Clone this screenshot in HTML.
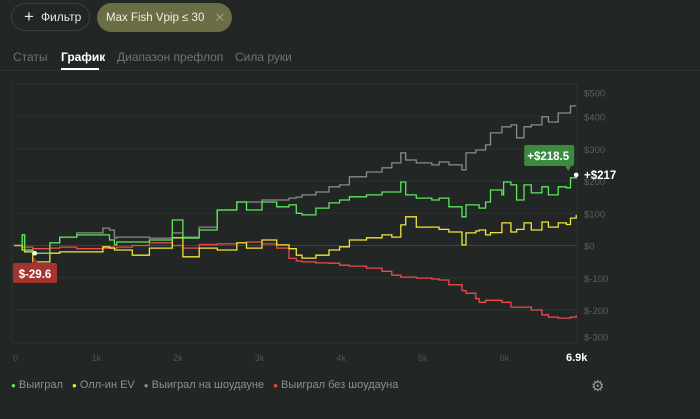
<!DOCTYPE html>
<html><head><meta charset="utf-8">
<style>
body{margin:0;width:700px;height:419px;background:#222725;font-family:"Liberation Sans",sans-serif;overflow:hidden;position:relative;color:#ccc}
.pill{position:absolute;border-radius:15px;font-size:12px;display:flex;align-items:center;white-space:nowrap;box-sizing:border-box}
.tab{position:absolute;top:50px;font-size:12px;color:#6f7472;white-space:nowrap}
</style></head><body>
<div class="pill" style="left:11px;top:3px;width:79px;height:28px;border:1px solid #3a3f3d;color:#e8e8e8"><span style="font-size:17px;margin:0 7px 0 12px;font-weight:300">+</span>Фильтр</div>
<div class="pill" style="left:97px;top:3px;width:135px;height:29px;background:#6b6d45;color:#f0f0e0;font-size:11.5px"><span style="margin-left:9px">Max Fish Vpip ≤ 30</span><span style="margin-left:10px;color:#999b7a;font-size:13px">✕</span></div>
<div class="tab" style="left:13px">Статы</div>
<div class="tab" style="left:61px;color:#fff;font-weight:bold">График</div>
<div style="position:absolute;left:61px;top:68px;width:38px;height:2px;background:#fff"></div>
<div class="tab" style="left:117px">Диапазон префлоп</div>
<div class="tab" style="left:235px">Сила руки</div>
<div style="position:absolute;left:0;top:70px;width:700px;height:1px;background:#2e3331"></div>

<svg id="chart" width="700" height="419" style="position:absolute;left:0;top:0"></svg>

<div style="position:absolute;left:11px;top:379px;font-size:11px;font-family:'Liberation Sans Narrow','Liberation Sans',sans-serif;color:#8b908e;display:flex;gap:9px;white-space:nowrap">
<span><span style="color:#5de65a;font-size:8px">●</span> Выиграл</span>
<span><span style="color:#f1e33c;font-size:8px">●</span> Олл-ин EV</span>
<span><span style="color:#8a8a8a;font-size:8px">●</span> Выиграл на шоудауне</span>
<span><span style="color:#ee4b47;font-size:8px">●</span> Выиграл без шоудауна</span>
</div>
<div style="position:absolute;left:591px;top:377px;font-size:15px;color:#9a9e9c">⚙</div>

<script>
const hands=[0,100,130,230,440,560,770,1090,1170,1230,1260,1450,1660,1940,2070,2270,2490,2730,2850,3040,3220,3370,3460,3530,3700,3860,3990,4110,4320,4510,4630,4740,4800,4930,5120,5210,5330,5490,5540,5660,5700,5780,5840,5980,6000,6090,6160,6250,6340,6470,6550,6670,6770,6820,6890];
const won=[0,33,-14,-24,8,26,33,33,17,2,11,11,17,79,23,48,110,135,110,135,120,126,100,95,116,132,141,151,157,166,166,197,157,147,141,147,120,89,126,126,116,135,172,157,197,188,141,188,163,182,157,182,179,210,219];
const showdown=[0,33,-14,-24,8,26,39,54,48,23,26,26,23,39,26,57,110,135,135,141,141,147,150,157,166,182,188,213,228,241,256,287,265,256,250,259,250,234,287,296,296,312,349,368,368,374,334,368,374,399,383,411,411,433,433];
const nonShowdown=[0,-5,-5,-10,-8,-5,-10,-8,-5,-8,-5,0,8,0,-8,3,5,8,11,5,-8,-40,-48,-51,-54,-55,-61,-64,-70,-80,-92,-98,-98,-101,-104,-107,-122,-140,-148,-165,-176,-170,-170,-176,-176,-191,-191,-191,-200,-215,-222,-225,-225,-222,-216];
const allinEV=[0,-14,-20,-51,-24,-20,-20,-4,-8,-14,-14,-30,-8,24,-35,-8,-14,8,-8,17,2,-10,-30,-39,-30,-14,-4,17,24,33,26,64,89,57,57,50,42,2,39,45,48,33,40,70,70,42,50,70,48,73,57,70,65,85,95];
const yTicks=[500,400,300,200,100,0,-100,-200,-300];
const xTicks=[0,1000,2000,3000,4000,5000,6000];
const xTickLabels=["0","1k","2k","3k","4k","5k","6k"];
const maxHands=6900;
const lastLabel="+$217", peakLabel="+$218.5", minLabel="$-29.6";

const X=h=>14+h*(577-14)/maxHands;
const Y=v=>245.5-v*0.3225;
const svg=document.getElementById('chart');
const NS='http://www.w3.org/2000/svg';
function mk(t,a){const e=document.createElementNS(NS,t);for(const k in a)e.setAttribute(k,a[k]);svg.appendChild(e);return e;}

const frame=mk('rect',{x:12,y:84,width:565,height:259,fill:'none',stroke:'#2d3230','stroke-width':1});


yTicks.forEach(v=>{
  if(v>-300&&v<500){const g=mk('line',{x1:12,x2:577,y1:Y(v),y2:Y(v),stroke:v===0?'#3e4341':'#2b302e','stroke-width':1});
  
  }
  const off=v===500?12:(v===-300?-2:4);
  const t=mk('text',{x:584,y:Y(v)+off,fill:'#5b605e','font-size':9.5});
  t.textContent=(v<0?'$-'+(-v):'$'+v);
  
  
});
xTicks.forEach((h,i)=>{
  const t=mk('text',{x:X(h)-(i===0?1:4),y:361,fill:'#4f5452','font-size':9});
  t.textContent=xTickLabels[i];
  
  
});
const endT=mk('text',{x:566,y:361,fill:'#fff','font-size':11,'font-weight':'bold'});
endT.textContent=(maxHands/1000)+'k';



function series(vals,color,name){
  let d='M'+X(hands[0])+' '+Y(vals[0]);
  for(let i=1;i<hands.length;i++){d+=' H'+X(hands[i]).toFixed(1)+' V'+Y(vals[i]).toFixed(1);}
  const p=mk('path',{d:d,fill:'none',stroke:color,'stroke-width':1.3});
  
  
}
series(showdown,'#8a8a8a','line-showdown');
series(nonShowdown,'#ee4b47','line-non-showdown');
series(allinEV,'#f1e33c','line-allin-ev');
series(won,'#5de65a','line-won');

const lx=X(hands[hands.length-1]), ly=Y(won[won.length-1]);
const tip=mk('path',{d:`M${lx-52} 145 h48 a2 2 0 0 1 2 2 v17 a2 2 0 0 1 -2 2 h-1 l-3 5 l-3 -5 h-39 a2 2 0 0 1 -2 -2 v-17 a2 2 0 0 1 2 -2z`,fill:'#3b8a3e'});


const tt=mk('text',{x:lx-28,y:160,fill:'#fff','font-size':11.5,'font-weight':'bold','text-anchor':'middle'});
tt.textContent=peakLabel;


const dot=mk('circle',{cx:lx,cy:ly,r:2.3,fill:'#fff'});


const lt=mk('text',{x:584,y:ly+4,fill:'#fff','font-size':11.5,'font-weight':'bold'});
lt.textContent=lastLabel;



const mx=X(hands[3])+2, my=Y(won[3]);
const mtip=mk('path',{d:`M13 265 a2 2 0 0 1 2 -2 h17 l3 -5 l3 5 h17 a2 2 0 0 1 2 2 v16 a2 2 0 0 1 -2 2 h-40 a2 2 0 0 1 -2 -2z`,fill:'#a5332f'});


const mt=mk('text',{x:35,y:278,fill:'#fff','font-size':11.5,'font-weight':'bold','text-anchor':'middle'});
mt.textContent=minLabel;


const mdot=mk('circle',{cx:mx,cy:my,r:2.3,fill:'#fff'});


</script>
</body></html>
